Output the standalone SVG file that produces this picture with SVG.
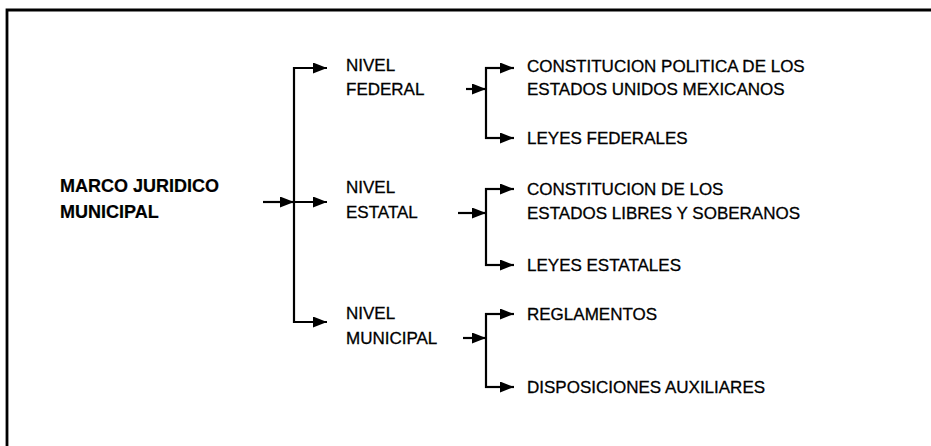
<svg xmlns="http://www.w3.org/2000/svg" width="931" height="446" viewBox="0 0 931 446">
<style>
text{font-family:"Liberation Sans",Arial,sans-serif;font-size:17px;fill:#000;stroke:#000;stroke-width:0.3px;}
.b{font-weight:bold;font-size:18px;stroke-width:0.2px;}
.ln{stroke:#000;stroke-width:2.2;fill:none;}
.fr{stroke:#000;stroke-width:2.8;fill:none;}
</style>
<defs>
<marker id="ah" viewBox="0 0 14 11" refX="14" refY="5.5" markerWidth="14" markerHeight="11" markerUnits="userSpaceOnUse" orient="auto">
<path d="M0,0 L14,5.5 L0,11 Z" fill="#000"/>
</marker>
</defs>
<rect width="931" height="446" fill="#fff"/>
<g id="frame">
<path class="fr" d="M7,446 V10 H931"/>
</g>
<g id="connectors">
<path class="ln" d="M263,202 H294" marker-end="url(#ah)"/>
<path class="ln" d="M294,67 V323"/>
<path class="ln" d="M293,68 H327" marker-end="url(#ah)"/>
<path class="ln" d="M294,202 H327" marker-end="url(#ah)"/>
<path class="ln" d="M293,322 H327" marker-end="url(#ah)"/>
<path class="ln" d="M466,89 H486" marker-end="url(#ah)"/>
<path class="ln" d="M486,67 V139"/>
<path class="ln" d="M485,68 H514" marker-end="url(#ah)"/>
<path class="ln" d="M485,138 H514" marker-end="url(#ah)"/>
<path class="ln" d="M458,213 H486" marker-end="url(#ah)"/>
<path class="ln" d="M486,188 V266"/>
<path class="ln" d="M485,189 H514" marker-end="url(#ah)"/>
<path class="ln" d="M485,265 H514" marker-end="url(#ah)"/>
<path class="ln" d="M463,338 H486" marker-end="url(#ah)"/>
<path class="ln" d="M486,313 V388"/>
<path class="ln" d="M485,314 H514" marker-end="url(#ah)"/>
<path class="ln" d="M485,387 H514" marker-end="url(#ah)"/>
</g>
<g id="marco"><text class="b" x="60" y="192">MARCO JURIDICO</text><text class="b" x="60" y="218">MUNICIPAL</text></g>
<g id="nivel-federal"><text x="346" y="71">NIVEL</text><text x="346" y="95">FEDERAL</text></g>
<g id="nivel-estatal"><text x="346" y="193">NIVEL</text><text x="346" y="218">ESTATAL</text></g>
<g id="nivel-municipal"><text x="346" y="319">NIVEL</text><text x="346" y="344">MUNICIPAL</text></g>
<g id="constitucion-federal"><text x="527" y="72">CONSTITUCION POLITICA DE LOS</text><text x="527" y="95">ESTADOS UNIDOS MEXICANOS</text></g>
<g id="leyes-federales"><text x="527" y="144">LEYES FEDERALES</text></g>
<g id="constitucion-estatal"><text x="527" y="195">CONSTITUCION DE LOS</text><text x="527" y="219">ESTADOS LIBRES Y SOBERANOS</text></g>
<g id="leyes-estatales"><text x="527" y="271">LEYES ESTATALES</text></g>
<g id="reglamentos"><text x="527" y="320">REGLAMENTOS</text></g>
<g id="disposiciones"><text x="527" y="393">DISPOSICIONES AUXILIARES</text></g>
</svg>
